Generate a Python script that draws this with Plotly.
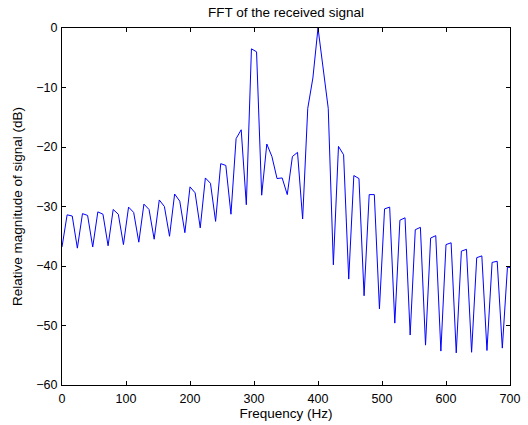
import plotly.graph_objects as go

# FFT bin frequencies (Hz), 8 Hz spacing
freq_hz = list(range(0, 705, 8))

# Relative magnitude (dB)
magnitude_db = [
    -36.8, -31.4, -31.6, -37.0, -31.2, -31.5, -36.8, -30.9, -31.3, -36.6,
    -30.5, -31.3, -36.4, -30.1, -31.0, -36.0, -29.6, -30.5, -35.5, -28.9,
    -30.0, -35.0, -27.9, -29.1, -34.4, -26.7, -27.7, -33.6, -25.2, -26.1,
    -32.5, -22.8, -23.1, -31.3, -18.6, -17.1, -29.7, -3.5, -4.0, -28.1,
    -19.5, -21.6, -25.3, -25.2, -28.0, -21.6, -20.9, -32.1, -13.5, -8.4,
    0.0, -7.2, -13.5, -39.8, -19.9, -21.3, -42.2, -24.8, -25.3, -45.0,
    -28.0, -28.0, -47.2, -30.4, -30.1, -49.6, -32.3, -31.9, -51.6, -33.9,
    -33.5, -53.3, -35.3, -34.9, -54.3, -36.4, -36.1, -54.6, -37.5, -37.2,
    -54.5, -38.6, -38.3, -54.2, -39.4, -39.2, -53.8, -40.2, -40.3,
]

x_ticks = [0, 100, 200, 300, 400, 500, 600, 700]
y_ticks = [-60, -50, -40, -30, -20, -10, 0]

title_text = "FFT of the received signal"
x_label = "Frequency (Hz)"
y_label = "Relative magnitude of signal (dB)"

FONT = "Liberation Sans, Arial, Helvetica, sans-serif"
TICK_SIZE = 12.5
LABEL_SIZE = 13.5

W, H = 528, 425

fig = go.Figure()
fig.add_trace(go.Scatter(
    x=freq_hz, y=magnitude_db, mode="lines",
    line=dict(color="#0000ff", width=1),
    showlegend=False, hoverinfo="x+y",
))

axis_common = dict(
    showline=True, linecolor="black", linewidth=1, mirror="ticks",
    ticks="inside", ticklen=4, tickcolor="black", tickwidth=1,
    showgrid=False, zeroline=False,
    tickfont=dict(family=FONT, size=TICK_SIZE, color="black"),
)

fig.update_layout(
    width=W, height=H,
    margin=dict(l=62, r=18, t=28, b=40, autoexpand=False),
    paper_bgcolor="white", plot_bgcolor="white",
    font=dict(family=FONT, size=TICK_SIZE, color="black"),
    title=dict(text=title_text, x=0.5, xref="paper", xanchor="center",
               y=1 - 12.5 / H, yref="container", yanchor="middle",
               font=dict(family=FONT, size=LABEL_SIZE, color="black")),
    xaxis=dict(range=[0, 700], tickvals=x_ticks, ticklabelstandoff=2,
               title=dict(text=x_label, standoff=1,
                          font=dict(family=FONT, size=LABEL_SIZE, color="black")),
               **axis_common),
    yaxis=dict(range=[-60, 0], tickvals=y_ticks, ticklabelstandoff=1,
               title=dict(text=y_label, standoff=10,
                          font=dict(family=FONT, size=LABEL_SIZE, color="black")),
               **axis_common),
)

# remove the browser's default 8px body margin so the figure fills the window
fig.write_html("out.html", config={"displayModeBar": False},
               post_script="document.body.style.margin='0';")
